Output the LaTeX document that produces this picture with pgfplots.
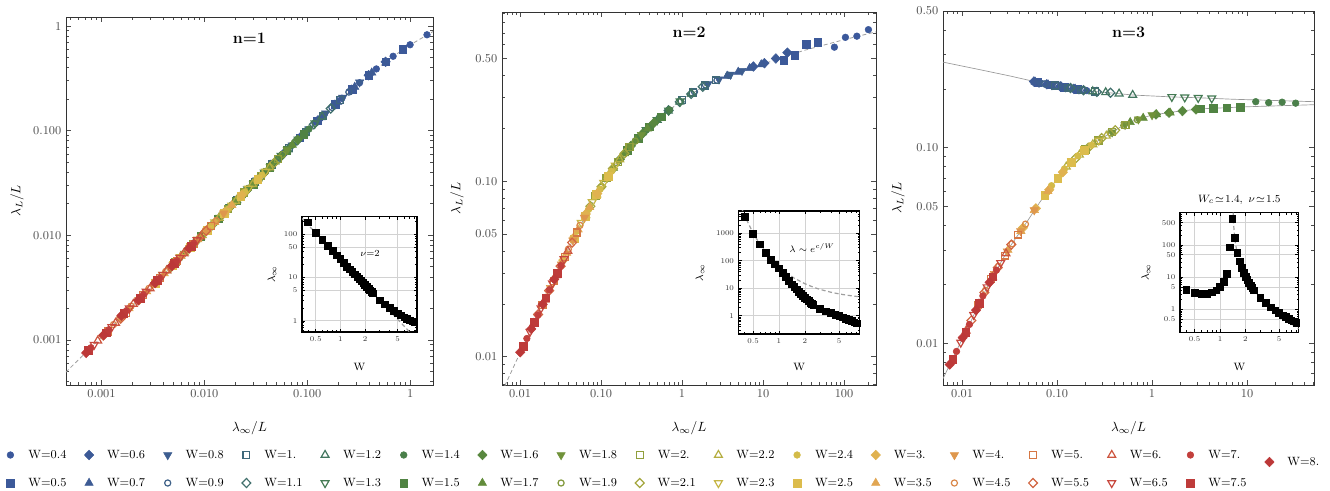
\documentclass[border=0pt]{standalone}
\usepackage{pgfplots}
\pgfplotsset{compat=1.18}

% colours of the W series (blue -> green -> yellow -> red)
\definecolor{c04}{RGB}{59,88,155}
\definecolor{c05}{RGB}{60,89,153}
\definecolor{c06}{RGB}{60,90,151}
\definecolor{c07}{RGB}{61,91,148}
\definecolor{c08}{RGB}{61,93,144}
\definecolor{c09}{RGB}{62,97,136}
\definecolor{c10}{RGB}{63,104,122}
\definecolor{c11}{RGB}{64,111,108}
\definecolor{c12}{RGB}{66,118,95}
\definecolor{c13}{RGB}{69,123,84}
\definecolor{c14}{RGB}{74,127,74}
\definecolor{c15}{RGB}{80,131,67}
\definecolor{c16}{RGB}{88,135,62}
\definecolor{c17}{RGB}{98,140,59}
\definecolor{c18}{RGB}{112,146,58}
\definecolor{c19}{RGB}{128,152,58}
\definecolor{c20}{RGB}{145,159,60}
\definecolor{c21}{RGB}{163,166,62}
\definecolor{c22}{RGB}{181,174,65}
\definecolor{c23}{RGB}{198,182,69}
\definecolor{c24}{RGB}{211,187,72}
\definecolor{c25}{RGB}{220,188,76}
\definecolor{c30}{RGB}{224,178,80}
\definecolor{c35}{RGB}{225,166,82}
\definecolor{c40}{RGB}{222,151,77}
\definecolor{c45}{RGB}{218,135,72}
\definecolor{c50}{RGB}{214,119,68}
\definecolor{c55}{RGB}{210,102,66}
\definecolor{c60}{RGB}{205,86,64}
\definecolor{c65}{RGB}{199,72,62}
\definecolor{c70}{RGB}{194,63,60}
\definecolor{c75}{RGB}{190,59,58}
\definecolor{c80}{RGB}{188,56,56}

\pgfplotsset{
  mA/.style={mark=*, mark size=2.5pt},
  mB/.style={mark=square*, mark size=2.9pt},
  mC/.style={mark=diamond*, mark size=3.6pt, mark options={xscale=1.3}},
  mD/.style={mark=triangle*, mark size=3.6pt},
  mE/.style={mark=triangle*, mark size=3.6pt, mark options={rotate=180}},
  mF/.style={mark=o, mark size=2.3pt, mark options={fill=white, line width=0.9pt}},
  mG/.style={mark=square, mark size=2.6pt, mark options={fill=white, line width=0.9pt}},
  mH/.style={mark=diamond, mark size=3.4pt, mark options={fill=white, line width=0.9pt, xscale=1.3}},
  mI/.style={mark=triangle, mark size=3.4pt, mark options={fill=white, line width=0.9pt}},
  mJ/.style={mark=triangle, mark size=3.4pt, mark options={fill=white, line width=0.9pt, rotate=180}},
  limg/.style={legend image code/.code={\path[draw=none, fill=none] (-0.5pt,0pt) rectangle (16.5pt,0.1pt); \draw[/tikz/only marks] plot coordinates {(3pt,0pt)};}},
  sq/.style={only marks, mark=square*, mark size=2.5pt, black},
  fitdash/.style={gray!75, line width=0.6pt, dash pattern=on 3pt off 2pt},
  fitline/.style={gray!80, line width=0.5pt},
}
\newcommand{\defw}[3]{\pgfplotsset{#1/.style={only marks, color=#2, #3}}}
\defw{w04}{c04}{mA}\defw{w05}{c05}{mB}\defw{w06}{c06}{mC}\defw{w07}{c07}{mD}
\defw{w08}{c08}{mE}\defw{w09}{c09}{mF}\defw{w10}{c10}{mG}\defw{w11}{c11}{mH}
\defw{w12}{c12}{mI}\defw{w13}{c13}{mJ}\defw{w14}{c14}{mA}\defw{w15}{c15}{mB}
\defw{w16}{c16}{mC}\defw{w17}{c17}{mD}\defw{w18}{c18}{mE}\defw{w19}{c19}{mF}
\defw{w20}{c20}{mG}\defw{w21}{c21}{mH}\defw{w22}{c22}{mI}\defw{w23}{c23}{mJ}
\defw{w24}{c24}{mA}\defw{w25}{c25}{mB}\defw{w30}{c30}{mC}\defw{w35}{c35}{mD}
\defw{w40}{c40}{mE}\defw{w45}{c45}{mF}\defw{w50}{c50}{mG}\defw{w55}{c55}{mH}
\defw{w60}{c60}{mI}\defw{w65}{c65}{mJ}\defw{w70}{c70}{mA}\defw{w75}{c75}{mB}
\defw{w80}{c80}{mC}
% fixed-width legend text so that every column has the same pitch
\newcommand{\lt}[1]{\makebox[42pt][l]{#1}}

\begin{document}
\begin{tikzpicture}
\useasboundingbox (0,0) rectangle (997.5pt,-368.25pt);

% ---------------- n=1 ----------------
\begin{axis}[xmode=log, ymode=log, at={(49.5pt,-12.75pt)}, width=275.25pt, height=276pt,
  scale only axis, anchor=north west,
  axis line style={black!80, line width=0.7pt},
  tick align=inside, major tick length=4pt, minor tick length=2.2pt,
  tick style={black!70, line width=0.5pt},
  tick label style={font=\small, text=black!70},
  xlabel={$\lambda_\infty/L$}, ylabel={$\lambda_L/L$},
  xmin=0.000452, xmax=1.67, ymin=0.00037, ymax=1.22,
  xtick={0.001,0.01,0.1,1}, xticklabels={0.001,0.010,0.100,1},
  ytick={0.001,0.01,0.1,1}, yticklabels={0.001,0.010,0.100,1},
  minor xtick={0.0005,0.0006,0.0007,0.0008,0.0009,0.002,0.003,0.004,0.005,0.006,0.007,0.008,0.009,0.02,0.03,0.04,0.05,0.06,0.07,0.08,0.09,0.2,0.3,0.4,0.5,0.6,0.7,0.8,0.9},
  minor ytick={0.0004,0.0005,0.0006,0.0007,0.0008,0.0009,0.002,0.003,0.004,0.005,0.006,0.007,0.008,0.009,0.02,0.03,0.04,0.05,0.06,0.07,0.08,0.09,0.2,0.3,0.4,0.5,0.6,0.7,0.8,0.9},
  xlabel style={at={(axis description cs:0.5,-0.117)}, anchor=center},
  ylabel style={at={(axis description cs:-0.1335,0.5)}, anchor=center}]
\addplot[w04] coordinates {(0.146,0.142) (0.2174,0.204) (0.323,0.287) (0.47,0.389) (0.684,0.514) (1.0,0.6625) (1.46,0.825)};
\addplot[w05] coordinates {(0.0847,0.0854) (0.1258,0.124) (0.187,0.178) (0.2721,0.248) (0.396,0.339) (0.579,0.456) (0.847,0.595)};
\addplot[w06] coordinates {(0.0578,0.0592) (0.0858,0.0865) (0.1275,0.1255) (0.1856,0.177) (0.27,0.246) (0.395,0.3385) (0.578,0.455)};
\addplot[w07] coordinates {(0.0424,0.0438) (0.0629,0.0643) (0.0935,0.0938) (0.1361,0.1334) (0.198,0.1876) (0.2896,0.2615) (0.424,0.358)};
\addplot[w08] coordinates {(0.0323,0.0336) (0.048,0.0495) (0.0714,0.0726) (0.1039,0.1037) (0.151,0.1468) (0.2211,0.207) (0.323,0.29)};
\addplot[w09] coordinates {(0.0254,0.0265) (0.03775,0.0391) (0.0561,0.0575) (0.0816,0.0825) (0.119,0.1177) (0.1737,0.1668) (0.254,0.2337)};
\addplot[w10] coordinates {(0.0208,0.0218) (0.0309,0.0322) (0.0459,0.0474) (0.0668,0.0681) (0.0972,0.0974) (0.1422,0.1389) (0.208,0.196)};
\addplot[w11] coordinates {(0.0169,0.0177) (0.02517,0.0263) (0.0374,0.0388) (0.0544,0.0559) (0.0792,0.0802) (0.1158,0.1148) (0.169,0.1627)};
\addplot[w12] coordinates {(0.0139,0.0146) (0.0206,0.0216) (0.0306,0.0318) (0.0445,0.0459) (0.0648,0.0661) (0.0948,0.0951) (0.139,0.1358)};
\addplot[w13] coordinates {(0.0119,0.0125) (0.01773,0.0186) (0.0264,0.0275) (0.03835,0.0398) (0.0558,0.0575) (0.0816,0.0825) (0.119,0.1177)};
\addplot[w14] coordinates {(0.0104,0.011) (0.01544,0.0162) (0.023,0.024) (0.0334,0.0347) (0.0486,0.05) (0.0711,0.0725) (0.104,0.1036)};
\addplot[w15] coordinates {(0.00924,0.0097) (0.01373,0.0144) (0.0204,0.0214) (0.02969,0.0309) (0.0432,0.0446) (0.0632,0.0645) (0.0924,0.0928)};
\addplot[w16] coordinates {(0.00809,0.0085) (0.01201,0.0126) (0.01785,0.0187) (0.02598,0.0271) (0.0378,0.0392) (0.0553,0.0567) (0.0809,0.0818)};
\addplot[w17] coordinates {(0.00716,0.0075) (0.01064,0.0112) (0.0158,0.0166) (0.023,0.024) (0.0335,0.0348) (0.049,0.0504) (0.0716,0.073)};
\addplot[w18] coordinates {(0.00639,0.0067) (0.0095,0.01) (0.0141,0.0148) (0.02053,0.0215) (0.0299,0.0311) (0.0437,0.0451) (0.0639,0.0652)};
\addplot[w19] coordinates {(0.00578,0.0061) (0.00858,0.009) (0.01275,0.0134) (0.01856,0.0195) (0.027,0.0282) (0.0395,0.0408) (0.0578,0.0592)};
\addplot[w20] coordinates {(0.00524,0.0055) (0.00778,0.0082) (0.01156,0.0122) (0.01682,0.0177) (0.0245,0.0256) (0.0358,0.0371) (0.0524,0.0539)};
\addplot[w21] coordinates {(0.00477,0.005) (0.00709,0.0075) (0.01054,0.0111) (0.01534,0.0161) (0.0223,0.0233) (0.03264,0.0339) (0.0477,0.0491)};
\addplot[w22] coordinates {(0.00431,0.0046) (0.00641,0.0068) (0.00952,0.01) (0.01385,0.0146) (0.0202,0.0211) (0.02948,0.0307) (0.0431,0.0445)};
\addplot[w23] coordinates {(0.00393,0.0042) (0.00583,0.0062) (0.00867,0.0091) (0.01262,0.0133) (0.0184,0.0193) (0.02685,0.028) (0.0393,0.0406)};
\addplot[w24] coordinates {(0.00362,0.0038) (0.00538,0.0057) (0.00799,0.0084) (0.01163,0.0122) (0.0169,0.0177) (0.02475,0.0258) (0.0362,0.0375)};
\addplot[w25] coordinates {(0.00331,0.0035) (0.00492,0.0052) (0.00731,0.0077) (0.01064,0.0112) (0.0155,0.0162) (0.02264,0.0237) (0.0331,0.0344)};
\addplot[w30] coordinates {(0.00231,0.0024) (0.00343,0.0036) (0.0051,0.0054) (0.00742,0.0078) (0.0108,0.0114) (0.0158,0.0166) (0.0231,0.0242)};
\addplot[w35] coordinates {(0.00185,0.002) (0.00275,0.0029) (0.00408,0.0043) (0.00594,0.0063) (0.00864,0.0091) (0.01264,0.0133) (0.0185,0.0194)};
\addplot[w40] coordinates {(0.00154,0.0016) (0.00229,0.0024) (0.0034,0.0036) (0.00495,0.0052) (0.0072,0.0076) (0.01053,0.0111) (0.0154,0.0162)};
\addplot[w45] coordinates {(0.00131,0.0014) (0.00194,0.0021) (0.00289,0.0031) (0.00421,0.0045) (0.00612,0.0065) (0.00895,0.0094) (0.0131,0.0138)};
\addplot[w50] coordinates {(0.00116,0.0012) (0.00172,0.0018) (0.00255,0.0027) (0.00371,0.0039) (0.0054,0.0057) (0.0079,0.0083) (0.0116,0.0122)};
\addplot[w55] coordinates {(0.00104,0.0011) (0.00154,0.0016) (0.0023,0.0024) (0.00334,0.0035) (0.00486,0.0051) (0.00711,0.0075) (0.0104,0.011)};
\addplot[w60] coordinates {(0.00092,0.00098) (0.00137,0.00145) (0.00204,0.0022) (0.00297,0.0031) (0.00432,0.0046) (0.00632,0.0067) (0.0092,0.0097)};
\addplot[w65] coordinates {(0.00085,0.0009) (0.00126,0.00133) (0.00187,0.002) (0.00272,0.0029) (0.00396,0.0042) (0.00579,0.0061) (0.0085,0.009)};
\addplot[w70] coordinates {(0.00079,0.00084) (0.00118,0.00125) (0.00175,0.0019) (0.00255,0.0027) (0.00371,0.0039) (0.00542,0.0057) (0.0079,0.0084)};
\addplot[w75] coordinates {(0.00075,0.00079) (0.00111,0.00117) (0.00165,0.0018) (0.0024,0.0025) (0.00349,0.0037) (0.00511,0.0054) (0.0075,0.0079)};
\addplot[w80] coordinates {(0.00071,0.00075) (0.00105,0.00111) (0.00156,0.0017) (0.00228,0.0024) (0.00331,0.0035) (0.00484,0.0051) (0.0071,0.0075)};
\addplot[fitdash] coordinates {(0.00045,0.00049) (0.001,0.00106) (0.01,0.0105) (0.1,0.098) (0.3,0.27) (0.6,0.47) (1,0.66) (1.67,0.885)};
\node[font=\large\bfseries] at (rel axis cs:0.5,0.943) {n=1};
\end{axis}

% ---------------- n=2 ----------------
\begin{axis}[xmode=log, ymode=log, at={(376.5pt,-9pt)}, width=280.5pt, height=279.75pt,
  scale only axis, anchor=north west,
  axis line style={black!80, line width=0.7pt},
  tick align=inside, major tick length=4pt, minor tick length=2.2pt,
  tick style={black!70, line width=0.5pt},
  tick label style={font=\small, text=black!70},
  xlabel={$\lambda_\infty/L$}, ylabel={$\lambda_L/L$},
  xmin=0.006, xmax=248, ymin=0.0069, ymax=0.92,
  xtick={0.01,0.1,1,10,100}, xticklabels={0.01,0.10,1,10,100},
  ytick={0.01,0.05,0.1,0.5}, yticklabels={0.01,0.05,0.10,0.50},
  minor xtick={0.007,0.008,0.009,0.02,0.03,0.04,0.05,0.06,0.07,0.08,0.09,0.2,0.3,0.4,0.5,0.6,0.7,0.8,0.9,2,3,4,5,6,7,8,9,20,30,40,50,60,70,80,90,200},
  minor ytick={0.007,0.008,0.009,0.02,0.03,0.04,0.06,0.07,0.08,0.09,0.2,0.3,0.4,0.6,0.7,0.8,0.9},
  xlabel style={at={(axis description cs:0.5,-0.1153)}, anchor=center},
  ylabel style={at={(axis description cs:-0.1203,0.5)}, anchor=center}]
\addplot[w04] coordinates {(76,0.58) (104,0.66) (144,0.67) (200,0.73)};
\addplot[w05] coordinates {(18.05,0.49) (24.7,0.52) (34.2,0.6) (47.5,0.62)};
\addplot[w06] coordinates {(7.6,0.45) (10.4,0.47) (14.4,0.5) (20,0.54)};
\addplot[w07] coordinates {(3.61,0.398) (4.94,0.419) (6.84,0.44) (9.5,0.462)};
\addplot[w08] coordinates {(2.09,0.358) (2.86,0.381) (3.96,0.405) (5.5,0.426)};
\addplot[w09] coordinates {(1.425,0.323) (1.95,0.353) (2.7,0.376) (3.75,0.401)};
\addplot[w10] coordinates {(1.007,0.291) (1.378,0.32) (1.908,0.351) (2.65,0.375)};
\addplot[w11] coordinates {(0.684,0.253) (0.936,0.283) (1.296,0.314) (1.8,0.345)};
\addplot[w12] coordinates {(0.494,0.223) (0.676,0.252) (0.936,0.283) (1.3,0.315)};
\addplot[w13] coordinates {(0.361,0.196) (0.494,0.223) (0.684,0.253) (0.95,0.285)};
\addplot[w14] coordinates {(0.266,0.17) (0.364,0.196) (0.504,0.224) (0.7,0.255)};
\addplot[w15] coordinates {(0.209,0.15) (0.286,0.176) (0.396,0.204) (0.55,0.233)};
\addplot[w16] coordinates {(0.171,0.133) (0.234,0.159) (0.324,0.186) (0.45,0.215)};
\addplot[w17] coordinates {(0.1425,0.119) (0.195,0.144) (0.27,0.171) (0.375,0.199)};
\addplot[w18] coordinates {(0.12,0.105) (0.164,0.13) (0.227,0.157) (0.315,0.184)};
\addplot[w19] coordinates {(0.1007,0.0925) (0.1378,0.116) (0.191,0.142) (0.265,0.169)};
\addplot[w20] coordinates {(0.0855,0.082) (0.117,0.104) (0.162,0.129) (0.225,0.156)};
\addplot[w21] coordinates {(0.0741,0.072) (0.1014,0.093) (0.1404,0.118) (0.195,0.144)};
\addplot[w22] coordinates {(0.0646,0.064) (0.0884,0.084) (0.1224,0.107) (0.17,0.133)};
\addplot[w23] coordinates {(0.057,0.058) (0.078,0.076) (0.108,0.098) (0.15,0.123)};
\addplot[w24] coordinates {(0.0513,0.052) (0.0702,0.069) (0.0972,0.09) (0.135,0.114)};
\addplot[w25] coordinates {(0.0466,0.047) (0.0637,0.063) (0.0882,0.084) (0.1225,0.107)};
\addplot[w30] coordinates {(0.0342,0.0355) (0.0468,0.048) (0.0648,0.065) (0.09,0.085)};
\addplot[w35] coordinates {(0.0276,0.029) (0.0377,0.039) (0.0522,0.053) (0.0725,0.071)};
\addplot[w40] coordinates {(0.02375,0.0247) (0.0325,0.0336) (0.045,0.046) (0.0625,0.062)};
\addplot[w45] coordinates {(0.0209,0.0218) (0.0286,0.0297) (0.0396,0.041) (0.055,0.056)};
\addplot[w50] coordinates {(0.019,0.0198) (0.026,0.027) (0.036,0.037) (0.05,0.051)};
\addplot[w55] coordinates {(0.0167,0.0174) (0.0229,0.0238) (0.0317,0.0328) (0.044,0.0447)};
\addplot[w60] coordinates {(0.0148,0.0155) (0.0203,0.0211) (0.0281,0.0291) (0.039,0.04)};
\addplot[w65] coordinates {(0.0133,0.0139) (0.0182,0.0189) (0.0252,0.0262) (0.035,0.036)};
\addplot[w70] coordinates {(0.01216,0.0127) (0.01664,0.0173) (0.02304,0.024) (0.032,0.033)};
\addplot[w75] coordinates {(0.011,0.0115) (0.01508,0.0157) (0.02088,0.0217) (0.029,0.03)};
\addplot[w80] coordinates {(0.01007,0.0106) (0.01378,0.0144) (0.01908,0.0199) (0.0265,0.0276)};
\addplot[fitdash] coordinates {(0.006,0.0063) (0.01,0.0105) (0.02,0.0208) (0.0316,0.033) (0.05,0.051) (0.1,0.092) (0.158,0.127) (0.251,0.165) (0.398,0.204) (0.631,0.245) (1,0.29) (2,0.355) (4,0.405) (10,0.465) (31.6,0.555) (100,0.64) (250,0.71)};
\node[font=\large\bfseries] at (rel axis cs:0.5,0.946) {n=2};
\end{axis}

% ---------------- n=3 ----------------
\begin{axis}[xmode=log, ymode=log, at={(707.25pt,-8.25pt)}, width=278.25pt, height=280.5pt,
  scale only axis, anchor=north west,
  axis line style={black!80, line width=0.7pt},
  tick align=inside, major tick length=4pt, minor tick length=2.2pt,
  tick style={black!70, line width=0.5pt},
  tick label style={font=\small, text=black!70},
  xlabel={$\lambda_\infty/L$}, ylabel={$\lambda_L/L$},
  xmin=0.0063, xmax=50.7, ymin=0.00613, ymax=0.5,
  xtick={0.01,0.1,1,10}, xticklabels={0.01,0.10,1,10},
  ytick={0.01,0.05,0.1,0.5}, yticklabels={0.01,0.05,0.10,0.50},
  minor xtick={0.007,0.008,0.009,0.02,0.03,0.04,0.05,0.06,0.07,0.08,0.09,0.2,0.3,0.4,0.5,0.6,0.7,0.8,0.9,2,3,4,5,6,7,8,9,20,30,40,50},
  minor ytick={0.007,0.008,0.009,0.02,0.03,0.04,0.06,0.07,0.08,0.09,0.2,0.3,0.4},
  xlabel style={at={(axis description cs:0.5,-0.115)}, anchor=center},
  ylabel style={at={(axis description cs:-0.1213,0.5)}, anchor=center}]
\addplot[w04] coordinates {(0.0779,0.211) (0.1066,0.206) (0.1476,0.201) (0.205,0.196)};
\addplot[w05] coordinates {(0.0627,0.216) (0.0858,0.21) (0.1188,0.204) (0.165,0.199)};
\addplot[w06] coordinates {(0.057,0.218) (0.078,0.211) (0.108,0.206) (0.15,0.2)};
\addplot[w07] coordinates {(0.0589,0.217) (0.0806,0.21) (0.1116,0.205) (0.155,0.2)};
\addplot[w08] coordinates {(0.0646,0.215) (0.0884,0.209) (0.1224,0.204) (0.17,0.199)};
\addplot[w09] coordinates {(0.0741,0.212) (0.1014,0.207) (0.1404,0.202) (0.195,0.197)};
\addplot[w10] coordinates {(0.095,0.208) (0.13,0.203) (0.18,0.198) (0.25,0.194)};
\addplot[w11] coordinates {(0.1387,0.202) (0.1898,0.197) (0.2628,0.193) (0.365,0.191)};
\addplot[w12] coordinates {(0.2375,0.194) (0.325,0.192) (0.45,0.189) (0.625,0.186)};
\addplot[w13] coordinates {(1.615,0.182) (2.21,0.181) (3.06,0.18) (4.25,0.179)};
\addplot[w14] coordinates {(12.35,0.172) (16.9,0.17) (23.4,0.171) (32.5,0.169)};
\addplot[w15] coordinates {(3.23,0.158) (4.42,0.159) (6.12,0.16) (8.5,0.161)};
\addplot[w16] coordinates {(1.1,0.148) (1.51,0.151) (2.09,0.154) (2.9,0.157)};
\addplot[w17] coordinates {(0.589,0.135) (0.806,0.142) (1.116,0.148) (1.55,0.151)};
\addplot[w18] coordinates {(0.38,0.12) (0.52,0.131) (0.72,0.14) (1.0,0.147)};
\addplot[w19] coordinates {(0.266,0.108) (0.364,0.119) (0.504,0.13) (0.7,0.139)};
\addplot[w20] coordinates {(0.1995,0.098) (0.273,0.109) (0.378,0.12) (0.525,0.131)};
\addplot[w21] coordinates {(0.156,0.088) (0.213,0.1) (0.295,0.112) (0.41,0.123)};
\addplot[w22] coordinates {(0.125,0.08) (0.172,0.092) (0.238,0.104) (0.33,0.115)};
\addplot[w23] coordinates {(0.1045,0.071) (0.143,0.085) (0.198,0.098) (0.275,0.109)};
\addplot[w24] coordinates {(0.0874,0.064) (0.1196,0.078) (0.1656,0.091) (0.23,0.103)};
\addplot[w25] coordinates {(0.0741,0.057) (0.1014,0.07) (0.1404,0.084) (0.195,0.097)};
\addplot[w30] coordinates {(0.0437,0.039) (0.0598,0.049) (0.0828,0.061) (0.115,0.075)};
\addplot[w35] coordinates {(0.0304,0.03) (0.0416,0.0375) (0.0576,0.048) (0.08,0.06)};
\addplot[w40] coordinates {(0.02185,0.0227) (0.0299,0.0296) (0.0414,0.0375) (0.0575,0.048)};
\addplot[w45] coordinates {(0.01767,0.0187) (0.0242,0.0248) (0.0335,0.0323) (0.0465,0.0407)};
\addplot[w50] coordinates {(0.01482,0.0157) (0.0203,0.0213) (0.0281,0.0281) (0.039,0.036)};
\addplot[w55] coordinates {(0.01254,0.0131) (0.01716,0.0182) (0.02376,0.0244) (0.033,0.032)};
\addplot[w60] coordinates {(0.01102,0.0116) (0.01508,0.0159) (0.02088,0.0218) (0.029,0.0288)};
\addplot[w65] coordinates {(0.00969,0.0101) (0.01326,0.014) (0.01836,0.0194) (0.0255,0.0258)};
\addplot[w70] coordinates {(0.00874,0.0091) (0.01196,0.0125) (0.01656,0.0175) (0.023,0.0237)};
\addplot[w75] coordinates {(0.00798,0.0083) (0.01092,0.0114) (0.01512,0.016) (0.021,0.0219)};
\addplot[w80] coordinates {(0.00741,0.0078) (0.01014,0.0107) (0.01404,0.0148) (0.0195,0.0205)};
\addplot[fitline] coordinates {(0.0063,0.274) (0.0158,0.25) (0.0316,0.233) (0.063,0.216) (0.1,0.207) (0.2,0.196) (0.4,0.19) (0.63,0.186) (1.58,0.182) (3.16,0.18) (7.1,0.177) (15.8,0.175) (50.7,0.172)};
\addplot[fitline] coordinates {(0.0063,0.0066) (0.0079,0.0083) (0.01,0.0105) (0.0126,0.0132) (0.0158,0.0168) (0.02,0.021) (0.0251,0.0255) (0.0316,0.031) (0.0398,0.0365) (0.05,0.043) (0.063,0.051) (0.079,0.06) (0.1,0.069) (0.126,0.08) (0.158,0.089) (0.2,0.098) (0.251,0.106) (0.316,0.114) (0.398,0.122) (0.5,0.13) (0.63,0.137) (0.79,0.142) (1,0.147) (1.78,0.153) (3.16,0.158) (10,0.162) (50.7,0.166)};
\node[font=\large\bfseries] at (rel axis cs:0.5,0.944) {n=3};
\end{axis}

% ---------------- insets ----------------
\begin{axis}[xmode=log, ymode=log, at={(226.5pt,-162.5pt)}, width=86.25pt, height=86.5pt,
  scale only axis, anchor=north west,
  axis background/.style={fill=white},
  axis line style={black, line width=0.8pt},
  tick align=inside, major tick length=2.5pt, minor tick length=1.5pt,
  tick style={black, line width=0.4pt},
  tick label style={font=\fontsize{5.5}{6}\selectfont, text=black!80},
  grid=major, major grid style={gray!35, line width=0.5pt},
  xtick={0.5,1,2,5}, xticklabels={0.5,1,2,5},
  minor xtick={0.4,0.6,0.7,0.8,0.9,3,4,6,7,8},
  xlabel={W}, ylabel={$\lambda_\infty$}, label style={font=\footnotesize},
  xmin=0.34, xmax=8.6, ymin=0.55, ymax=257,
  ytick={1,5,10,50,100}, yticklabels={1,5,10,50,100},
  minor ytick={0.6,0.7,0.8,0.9,2,3,4,6,7,8,9,20,30,40,60,70,80,90,200},
  xlabel style={at={(axis description cs:0.5,-0.303)}, anchor=center},
  ylabel style={at={(axis description cs:-0.261,0.5)}, anchor=center}]
\addplot[sq] coordinates {(0.4,190) (0.5,110) (0.6,75) (0.7,55) (0.8,42) (0.9,33) (1,27) (1.1,22) (1.2,18) (1.3,15.5) (1.4,13.5) (1.5,12) (1.6,10.5) (1.7,9.3) (1.8,8.3) (1.9,7.5) (2,6.8) (2.1,6.2) (2.2,5.6) (2.3,5.1) (2.4,4.7) (2.5,4.3) (3,3) (3.5,2.4) (4,2) (4.5,1.7) (5,1.5) (5.5,1.35) (6,1.2) (6.5,1.1) (7,1.03) (7.5,0.97) (8,0.92)};
\addplot[fitdash, line width=0.9pt] coordinates {(0.33,248) (8.6,0.365)};
\node[font=\scriptsize] at (axis cs:2.3,37) {$\nu$=2};
\end{axis}

\begin{axis}[xmode=log, ymode=log, at={(554pt,-158.25pt)}, width=90.75pt, height=92.25pt,
  scale only axis, anchor=north west,
  axis background/.style={fill=white},
  axis line style={black, line width=0.8pt},
  tick align=inside, major tick length=2.5pt, minor tick length=1.5pt,
  tick style={black, line width=0.4pt},
  tick label style={font=\fontsize{5.5}{6}\selectfont, text=black!80},
  grid=major, major grid style={gray!35, line width=0.5pt},
  xtick={0.5,1,2,5}, xticklabels={0.5,1,2,5},
  minor xtick={0.4,0.6,0.7,0.8,0.9,3,4,6,7,8},
  xlabel={W}, ylabel={$\lambda_\infty$}, label style={font=\footnotesize},
  xmin=0.34, xmax=8.67, ymin=0.214, ymax=6457,
  ytick={1,10,100,1000}, yticklabels={1,10,100,1000},
  minor ytick={0.3,0.4,0.5,0.6,0.7,0.8,0.9,2,3,4,5,6,7,8,9,20,30,40,50,60,70,80,90,200,300,400,500,600,700,800,900,2000,3000,4000,5000},
  xlabel style={at={(axis description cs:0.5,-0.268)}, anchor=center},
  ylabel style={at={(axis description cs:-0.319,0.5)}, anchor=center}]
\addplot[sq] coordinates {(0.4,4000) (0.5,950) (0.6,400) (0.7,190) (0.8,110) (0.9,75) (1,53) (1.1,36) (1.2,26) (1.3,19) (1.4,14) (1.5,11) (1.6,9) (1.7,7.5) (1.8,6.3) (1.9,5.3) (2,4.5) (2.1,3.9) (2.2,3.4) (2.3,3) (2.4,2.7) (2.5,2.45) (3,1.8) (3.5,1.45) (4,1.25) (4.5,1.1) (5,1) (5.5,0.88) (6,0.78) (6.5,0.7) (7,0.64) (7.5,0.58) (8,0.53)};
\addplot[fitdash, line width=0.9pt] coordinates {(0.34,14800) (0.4,4243) (0.5,1025) (0.6,398) (0.7,202) (0.8,122) (1,59.9) (1.2,37.3) (1.5,23.2) (2,14.5) (2.5,10.9) (3,9) (4,7.12) (5,6.18) (6,5.62) (7,5.25) (8.7,4.85)};
\node[font=\scriptsize] at (axis cs:2.43,292) {$\lambda\sim e^{c/W}$};
\end{axis}

\begin{axis}[xmode=log, ymode=log, at={(885pt,-159.5pt)}, width=89pt, height=89.7pt,
  scale only axis, anchor=north west,
  axis background/.style={fill=white},
  axis line style={black, line width=0.8pt},
  tick align=inside, major tick length=2.5pt, minor tick length=1.5pt,
  tick style={black, line width=0.4pt},
  tick label style={font=\fontsize{5.5}{6}\selectfont, text=black!80},
  grid=major, major grid style={gray!35, line width=0.5pt},
  xtick={0.5,1,2,5}, xticklabels={0.5,1,2,5},
  minor xtick={0.4,0.6,0.7,0.8,0.9,3,4,6,7,8},
  xlabel={W}, ylabel={$\lambda_\infty$}, label style={font=\footnotesize},
  xmin=0.336, xmax=8.53, ymin=0.193, ymax=1023,
  ytick={0.5,1,5,10,50,100,500}, yticklabels={0.5,1,5,10,50,100,500},
  minor ytick={0.2,0.3,0.4,0.6,0.7,0.8,0.9,2,3,4,6,7,8,9,20,30,40,60,70,80,90,200,300,400,600,700,800,900},
  xlabel style={at={(axis description cs:0.5,-0.29)}, anchor=center},
  ylabel style={at={(axis description cs:-0.287,0.5)}, anchor=center},
  clip=false]
\addplot[sq] coordinates {(0.4,4.1) (0.5,3.3) (0.6,3) (0.7,3.1) (0.8,3.4) (0.9,3.9) (1,5) (1.1,7.3) (1.2,12.5) (1.3,85) (1.4,650) (1.5,170) (1.6,58) (1.7,31) (1.8,20) (1.9,14) (2,10.5) (2.1,8.2) (2.2,6.6) (2.3,5.5) (2.4,4.6) (2.5,3.9) (3,2.3) (3.5,1.6) (4,1.15) (4.5,0.93) (5,0.78) (5.5,0.66) (6,0.58) (6.5,0.51) (7,0.46) (7.5,0.42) (8,0.39)};
\addplot[fitdash, line width=0.9pt] coordinates {(1.431,1023) (1.45,416) (1.5,147) (1.6,52) (1.8,18.4) (2,10) (2.5,4.03) (3,2.3) (4,1.11) (5,0.68) (6,0.47) (7,0.35) (8.53,0.25)};
\node[font=\footnotesize] at (rel axis cs:0.5,1.106) {$W_c\!\simeq\!1.4,\ \nu\!\simeq\!1.5$};
\end{axis}

% ---------------- legend ----------------
\begin{axis}[at={(4.1pt,-341.25pt)}, anchor=south west, hide axis, scale only axis,
  width=1pt, height=1pt, xmin=0, xmax=1, ymin=0, ymax=1,
  legend columns=16, legend cell align=left,
  legend style={at={(0,0)}, anchor=west, draw=none, fill=none, inner sep=0pt, font=\small,
    column sep=0pt, nodes={inner xsep=0pt}}]
\addlegendimage{w04,limg}\addlegendentry{\lt{W=0.4}}
\addlegendimage{w06,limg}\addlegendentry{\lt{W=0.6}}
\addlegendimage{w08,limg}\addlegendentry{\lt{W=0.8}}
\addlegendimage{w10,limg}\addlegendentry{\lt{W=1.}}
\addlegendimage{w12,limg}\addlegendentry{\lt{W=1.2}}
\addlegendimage{w14,limg}\addlegendentry{\lt{W=1.4}}
\addlegendimage{w16,limg}\addlegendentry{\lt{W=1.6}}
\addlegendimage{w18,limg}\addlegendentry{\lt{W=1.8}}
\addlegendimage{w20,limg}\addlegendentry{\lt{W=2.}}
\addlegendimage{w22,limg}\addlegendentry{\lt{W=2.2}}
\addlegendimage{w24,limg}\addlegendentry{\lt{W=2.4}}
\addlegendimage{w30,limg}\addlegendentry{\lt{W=3.}}
\addlegendimage{w40,limg}\addlegendentry{\lt{W=4.}}
\addlegendimage{w50,limg}\addlegendentry{\lt{W=5.}}
\addlegendimage{w60,limg}\addlegendentry{\lt{W=6.}}
\addlegendimage{w70,limg}\addlegendentry{\lt{W=7.}}
\end{axis}

\begin{axis}[at={(4.1pt,-362.25pt)}, anchor=south west, hide axis, scale only axis,
  width=1pt, height=1pt, xmin=0, xmax=1, ymin=0, ymax=1,
  legend columns=16, legend cell align=left,
  legend style={at={(0,0)}, anchor=west, draw=none, fill=none, inner sep=0pt, font=\small,
    column sep=0pt, nodes={inner xsep=0pt}}]
\addlegendimage{w05,limg}\addlegendentry{\lt{W=0.5}}
\addlegendimage{w07,limg}\addlegendentry{\lt{W=0.7}}
\addlegendimage{w09,limg}\addlegendentry{\lt{W=0.9}}
\addlegendimage{w11,limg}\addlegendentry{\lt{W=1.1}}
\addlegendimage{w13,limg}\addlegendentry{\lt{W=1.3}}
\addlegendimage{w15,limg}\addlegendentry{\lt{W=1.5}}
\addlegendimage{w17,limg}\addlegendentry{\lt{W=1.7}}
\addlegendimage{w19,limg}\addlegendentry{\lt{W=1.9}}
\addlegendimage{w21,limg}\addlegendentry{\lt{W=2.1}}
\addlegendimage{w23,limg}\addlegendentry{\lt{W=2.3}}
\addlegendimage{w25,limg}\addlegendentry{\lt{W=2.5}}
\addlegendimage{w35,limg}\addlegendentry{\lt{W=3.5}}
\addlegendimage{w45,limg}\addlegendentry{\lt{W=4.5}}
\addlegendimage{w55,limg}\addlegendentry{\lt{W=5.5}}
\addlegendimage{w65,limg}\addlegendentry{\lt{W=6.5}}
\addlegendimage{w75,limg}\addlegendentry{\lt{W=7.5}}
\end{axis}

\begin{axis}[at={(948.35pt,-346.5pt)}, anchor=south west, hide axis, scale only axis,
  width=1pt, height=1pt, xmin=0, xmax=1, ymin=0, ymax=1,
  legend style={at={(0,0)}, anchor=west, draw=none, fill=none, inner sep=0pt, font=\small, nodes={inner xsep=0pt}}]
\addlegendimage{w80,limg}\addlegendentry{W=8.}
\end{axis}
\end{tikzpicture}
\end{document}
